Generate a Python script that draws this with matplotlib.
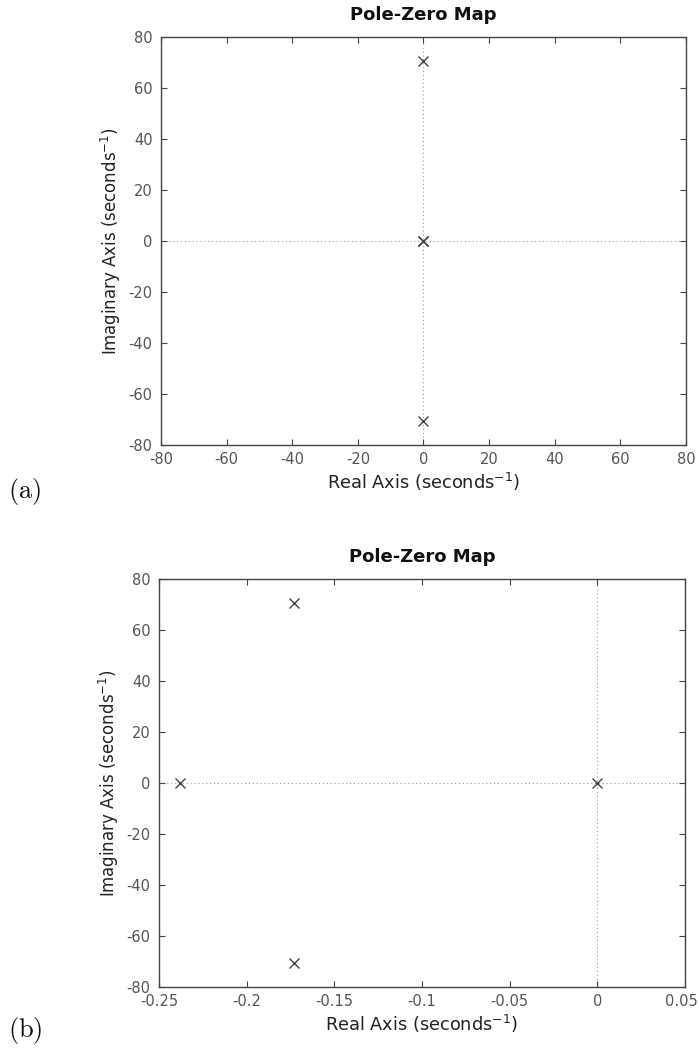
import matplotlib
matplotlib.use("Agg")
import matplotlib.pyplot as plt
import matplotlib.transforms as mtransforms

plt.rcParams["font.family"] = ["DejaVu Sans"]
plt.rcParams["axes.unicode_minus"] = False
plt.rcParams["mathtext.fontset"] = "dejavusans"

# Pole locations (real, imaginary) in seconds^-1
poles_a_real = [0.0, 0.0, 0.0, 0.0]
poles_a_imag = [70.7, -70.7, 0.0, 0.0]

poles_b_real = [-0.173, -0.173, -0.238, 0.0]
poles_b_imag = [70.7, -70.7, 0.0, 0.0]

xticks_a = [-80, -60, -40, -20, 0, 20, 40, 60, 80]
xticks_b = [-0.25, -0.2, -0.15, -0.1, -0.05, 0, 0.05]
xticklabels_b = ["-0.25", "-0.2", "-0.15", "-0.1", "-0.05", "0", "0.05"]
yticks = [-80, -60, -40, -20, 0, 20, 40, 60, 80]

fig = plt.figure(figsize=(6.99, 10.55), dpi=100)

ax_a = fig.add_axes([0.2303, 0.5782, 0.751, 0.3867])
ax_b = fig.add_axes([0.2275, 0.0645, 0.7525, 0.3867])

label_color = "#222222"
tick_color = "#555555"


def style(ax, xlim, xticks, xticklabels=None):
    ax.set_xlim(*xlim)
    ax.set_ylim(-80, 80)
    ax.set_xticks(xticks)
    if xticklabels is not None:
        ax.set_xticklabels(xticklabels)
    ax.set_yticks(yticks)
    ax.tick_params(direction="in", top=True, right=True, length=4,
                   width=0.8, color="#444444", labelsize=10.5,
                   labelcolor=tick_color)
    ax.tick_params(axis="x", pad=5)
    ax.tick_params(axis="y", pad=6)
    for s in ax.spines.values():
        s.set_color("#444444")
        s.set_linewidth(1.0)
    ax.axhline(0, color="#9a9a9a", lw=0.8, ls=(0, (1, 2.5)), zorder=1)
    ax.axvline(0, color="#9a9a9a", lw=0.8, ls=(0, (1, 2.5)), zorder=1)
    ax.set_title("Pole-Zero Map", fontsize=13, fontweight="bold",
                 color="#111111", pad=12)
    ax.set_xlabel(r"Real Axis (seconds$^{-1}$)", fontsize=12.8,
                  color=label_color, labelpad=3)
    ax.set_ylabel(r"Imaginary Axis (seconds$^{-1}$)", fontsize=12.0,
                  color=label_color, labelpad=4)


style(ax_a, (-80, 80), xticks_a)
ax_a.plot(poles_a_real, poles_a_imag, ls="none", marker="x", ms=7,
          mew=1.0, color="#444444", zorder=3)

style(ax_b, (-0.25, 0.05), xticks_b, xticklabels_b)
ax_b.plot(poles_b_real, poles_b_imag, ls="none", marker="x", ms=7,
          mew=1.0, color="#444444", zorder=3)

# keep the rightmost tick label inside the figure
last = ax_b.get_xticklabels()[-1]
last.set_transform(last.get_transform() +
                   mtransforms.ScaledTranslation(-4 / 100, 0, fig.dpi_scale_trans))

plt.rcParams["mathtext.fontset"] = "cm"
fig.text(0.012, 1 - 492 / 1055, r"$\mathrm{(a)}$", fontsize=19,
         va="center", ha="left", color="#111111")
fig.text(0.012, 1 - 1030 / 1055, r"$\mathrm{(b)}$", fontsize=19,
         va="center", ha="left", color="#111111")

fig.savefig("out.png", dpi=100)
